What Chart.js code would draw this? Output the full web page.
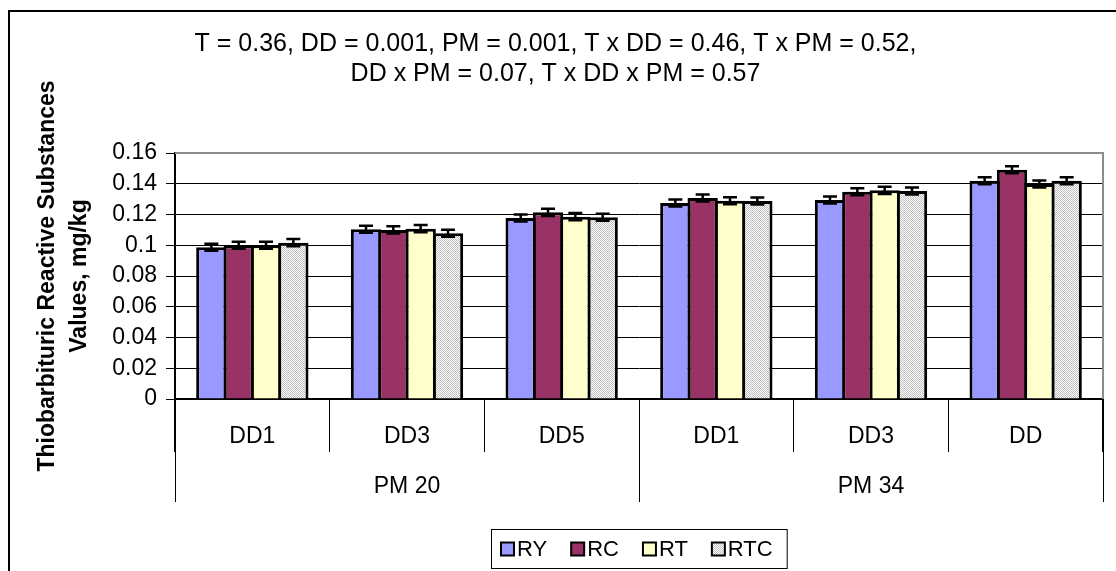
<!DOCTYPE html>
<html>
<head>
<meta charset="utf-8">
<title>Thiobarbituric Reactive Substances Values</title>
<script src="https://cdn.jsdelivr.net/npm/chart.js@4.4.1/dist/chart.umd.min.js"></script>
<style>
  html, body { margin: 0; padding: 0; background: #fff; }
  #wrap { width: 1116px; height: 571px; }
</style>
</head>
<body>
<div id="wrap"><canvas id="chart" width="1116" height="571"></canvas></div>
<script>
// ---- data ----
const categories = ['DD1', 'DD3', 'DD5', 'DD1', 'DD3', 'DD'];
const groupLabels = ['PM 20', 'PM 34'];
const groupSizes = [3, 3];
const seriesNames = ['RY', 'RC', 'RT', 'RTC'];

const valuesRY  = [0.0987, 0.1104, 0.1177, 0.1275, 0.1294, 0.1420];
const valuesRC  = [0.1000, 0.1100, 0.1214, 0.1307, 0.1348, 0.1491];
const valuesRT  = [0.1000, 0.1108, 0.1186, 0.1290, 0.1357, 0.1398];
const valuesRTC = [0.1017, 0.1078, 0.1182, 0.1288, 0.1353, 0.1420];

const errorsRY  = [0.0023, 0.0023, 0.0023, 0.0023, 0.0023, 0.0023];
const errorsRC  = [0.0023, 0.0023, 0.0023, 0.0023, 0.0023, 0.0023];
const errorsRT  = [0.0023, 0.0023, 0.0023, 0.0023, 0.0023, 0.0023];
const errorsRTC = [0.0023, 0.0023, 0.0023, 0.0023, 0.0023, 0.0023];

const yMin = 0;
const yMax = 0.16;
const yStep = 0.02;

const titleLines = [
  'T = 0.36, DD = 0.001, PM = 0.001, T x DD = 0.46, T x PM = 0.52,',
  'DD x PM = 0.07, T x DD x PM = 0.57'
];
const yTitleLines = ['Thiobarbituric Reactive Substances', 'Values, mg/kg'];

// ---- styling ----
const FONT = "'Liberation Sans', Arial, sans-serif";
const canvas = document.getElementById('chart');
const ctx = canvas.getContext('2d');

// fine grey stipple used for the RTC series
const tile = document.createElement('canvas');
tile.width = 2; tile.height = 2;
const tg = tile.getContext('2d');
tg.fillStyle = '#ffffff'; tg.fillRect(0, 0, 2, 2);
tg.fillStyle = '#bdbdbd'; tg.fillRect(0, 0, 1, 1); tg.fillRect(1, 1, 1, 1);
const stipple = ctx.createPattern(tile, 'repeat');

const fills = ['#9999FF', '#993366', '#FFFFCC', stipple];
const seriesValues = [valuesRY, valuesRC, valuesRT, valuesRTC];
const seriesErrors = [errorsRY, errorsRC, errorsRT, errorsRTC];

// neighbouring bars overlap by one outline width so they share a single edge
const datasets = seriesNames.map((name, i) => ({
  label: name,
  data: seriesValues[i],
  errors: seriesErrors[i],
  backgroundColor: fills[i],
  borderColor: '#000',
  borderWidth: 3,
  borderSkipped: 'start',
  categoryPercentage: 0.7068,
  barPercentage: 1.11
}));

// outer frame of the figure and the grey plot-area edge
const framePlugin = {
  id: 'frame',
  beforeDraw(chart) {
    const c = chart.ctx;
    c.save();
    c.fillStyle = '#fff';
    c.fillRect(0, 0, chart.width, chart.height);
    c.strokeStyle = '#000';
    c.lineWidth = 2;
    c.strokeRect(9, 11, chart.width + 20, chart.height + 20);
    c.restore();
  },
  afterDraw(chart) {
    const a = chart.chartArea;
    const c = chart.ctx;
    c.save();
    c.strokeStyle = '#8c8c8c';
    c.lineWidth = 2;
    c.beginPath();
    c.moveTo(a.left, a.top);
    c.lineTo(a.right, a.top);
    c.lineTo(a.right, a.bottom);
    c.stroke();
    c.restore();
  }
};

// second level of the category axis: group dividers and group names
const groupAxisPlugin = {
  id: 'groupAxis',
  afterDraw(chart) {
    const xs = chart.scales.x;
    const c = chart.ctx;
    const half = (xs.getPixelForValue(1) - xs.getPixelForValue(0)) / 2;
    const top = chart.chartArea.bottom;
    const lineEnd = top + 103;
    c.save();
    c.strokeStyle = '#000';
    c.lineWidth = 1;
    c.fillStyle = '#000';
    c.font = '23px ' + FONT;
    c.textAlign = 'center';
    c.textBaseline = 'middle';
    let start = 0;
    const edges = [xs.getPixelForValue(0) - half];
    groupSizes.forEach((n, g) => {
      const left = xs.getPixelForValue(start) - half;
      const right = xs.getPixelForValue(start + n - 1) + half;
      edges.push(right);
      c.fillText(groupLabels[g], (left + right) / 2, top + 88);
      start += n;
    });
    edges.forEach(x => {
      const px = Math.round(x) + 0.5;
      c.beginPath();
      c.moveTo(px, top);
      c.lineTo(px, lineEnd);
      c.stroke();
    });
    c.restore();
  }
};

// error bars on every bar
const errorBarPlugin = {
  id: 'errorBars',
  afterDatasetsDraw(chart) {
    const ys = chart.scales.y;
    const c = chart.ctx;
    c.save();
    c.strokeStyle = '#000';
    c.lineWidth = 2.5;
    chart.data.datasets.forEach((ds, i) => {
      const meta = chart.getDatasetMeta(i);
      meta.data.forEach((bar, j) => {
        const v = ds.data[j];
        const e = ds.errors[j];
        const yHi = ys.getPixelForValue(v + e);
        const yLo = ys.getPixelForValue(v - e);
        const x = bar.x;
        c.beginPath();
        c.moveTo(x, yHi); c.lineTo(x, yLo);
        c.moveTo(x - 7, yHi); c.lineTo(x + 7, yHi);
        c.moveTo(x - 7, yLo); c.lineTo(x + 7, yLo);
        c.stroke();
      });
    });
    c.restore();
  }
};

// boxed legend centred under the plot area
const boxedLegendPlugin = {
  id: 'boxedLegend',
  afterDraw(chart) {
    const c = chart.ctx;
    const a = chart.chartArea;
    c.save();
    c.font = '22px ' + FONT;
    c.textBaseline = 'middle';
    const box = 13, textGap = 3, itemGap = 24, padL = 10, padR = 14;
    const items = chart.data.datasets.map(ds => ({ label: ds.label, fill: ds.backgroundColor, w: c.measureText(ds.label).width }));
    let inner = 0;
    items.forEach((it, k) => { inner += box + textGap + it.w + (k < items.length - 1 ? itemGap : 0); });
    const width = padL + inner + padR;
    const left = Math.round((a.left + a.right) / 2 - width / 2);
    const top = 529, height = 39;
    c.strokeStyle = '#000';
    c.lineWidth = 1;
    c.strokeRect(left + 0.5, top + 0.5, width, height);
    let x = left + padL;
    const cy = top + height / 2 + 0.5;
    items.forEach(it => {
      c.fillStyle = it.fill;
      c.fillRect(x, cy - box / 2, box, box);
      c.lineWidth = 2;
      c.strokeRect(x, cy - box / 2, box, box);
      c.fillStyle = '#000';
      c.fillText(it.label, x + box + textGap, cy + 1);
      x += box + textGap + it.w + itemGap;
    });
    c.restore();
  }
};

new Chart(canvas, {
  type: 'bar',
  data: { labels: categories, datasets },
  options: {
    responsive: false,
    animation: false,
    devicePixelRatio: 1,
    layout: { padding: { left: 8, top: 10, right: 13, bottom: 68 } },
    plugins: {
      legend: { display: false },
      tooltip: { enabled: false },
      title: {
        display: true,
        text: titleLines,
        color: '#000',
        font: { family: FONT, size: 25, weight: 'normal', lineHeight: 1.2 },
        padding: { top: 19, bottom: 64 }
      }
    },
    scales: {
      x: {
        grid: { offset: true, drawOnChartArea: false, drawTicks: true, tickLength: 53, color: '#000', tickColor: '#000', lineWidth: 1 },
        border: { display: true, color: '#000', width: 2 },
        ticks: { color: '#000', font: { family: FONT, size: 23 }, padding: -29, maxRotation: 0, autoSkip: false },
        afterFit(scale) { scale.height = 104; }
      },
      y: {
        min: yMin,
        max: yMax,
        ticks: {
          stepSize: yStep,
          autoSkip: false,
          color: '#000',
          font: { family: FONT, size: 23, lineHeight: 1 },
          padding: 9,
          callback: v => String(Number(v.toFixed(2)))
        },
        grid: {
          color: c => (c.tick && Math.abs(c.tick.value - yMax) < 1e-9) ? '#8c8c8c' : '#000',
          tickColor: '#000',
          tickLength: 9,
          lineWidth: 1
        },
        border: { display: true, color: '#000', width: 2 },
        title: {
          display: true,
          text: yTitleLines,
          color: '#000',
          font: { family: FONT, size: 23, weight: 'bold', lineHeight: 1.39 },
          padding: { top: 24, bottom: 0 }
        },
        afterFit(scale) { scale.width = 167; }
      }
    }
  },
  plugins: [framePlugin, groupAxisPlugin, errorBarPlugin, boxedLegendPlugin]
});
</script>
</body>
</html>
